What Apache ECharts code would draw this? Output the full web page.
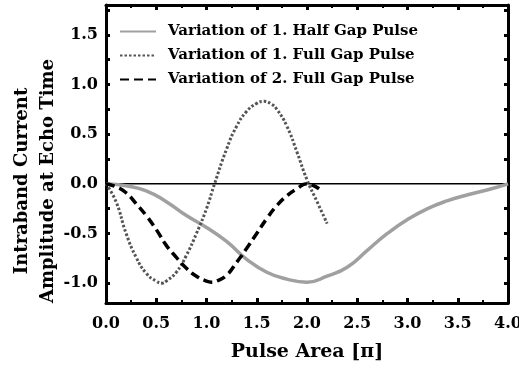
<!DOCTYPE html>
<html>
<head>
<meta charset="utf-8">
<script src="https://cdn.jsdelivr.net/npm/echarts@6/dist/echarts.min.js"></script>
<style>
  html, body { margin: 0; padding: 0; background: #fff; }
  #chart { width: 519px; height: 373px; }
</style>
</head>
<body>
<div id="chart"></div>
<script>
// Pulse area in units of pi
var halfGapX = [0, 0.2, 0.4, 0.6, 0.8, 1.0, 1.2, 1.4, 1.6, 1.8, 2.0, 2.2, 2.4, 2.6, 2.8, 3.0, 3.2, 3.4, 3.6, 3.8, 4.0];
var halfGapY = [0, -0.02, -0.07, -0.18, -0.32, -0.44, -0.58, -0.76, -0.89, -0.96, -0.99, -0.93, -0.84, -0.67, -0.5, -0.36, -0.25, -0.17, -0.11, -0.06, 0];

var full1X = [0, 0.1, 0.2, 0.3, 0.4, 0.5, 0.56, 0.6, 0.7, 0.8, 0.9, 1.0, 1.08, 1.2, 1.3, 1.4, 1.5, 1.57, 1.65, 1.7, 1.8, 1.9, 2.0, 2.1, 2.2];
var full1Y = [0, -0.18, -0.5, -0.74, -0.9, -0.98, -1.0, -0.98, -0.89, -0.72, -0.5, -0.25, 0, 0.35, 0.58, 0.73, 0.81, 0.83, 0.8, 0.75, 0.58, 0.32, 0.04, -0.18, -0.4];

var full2X = [0, 0.1, 0.2, 0.3, 0.4, 0.5, 0.6, 0.7, 0.8, 0.9, 1.0, 1.05, 1.1, 1.2, 1.3, 1.4, 1.5, 1.6, 1.7, 1.8, 1.9, 2.0, 2.05, 2.12];
var full2Y = [0, -0.03, -0.09, -0.2, -0.32, -0.46, -0.62, -0.74, -0.85, -0.93, -0.98, -0.99, -0.98, -0.92, -0.79, -0.65, -0.5, -0.35, -0.22, -0.12, -0.05, 0, -0.01, -0.05];

var seriesNames = ['Variation of 1. Half Gap Pulse', 'Variation of 1. Full Gap Pulse', 'Variation of 2. Full Gap Pulse'];
var yLabelValues = [-1.0, -0.5, 0.0, 0.5, 1.0, 1.5];
var yTickValues = [-1.0, -0.75, -0.5, -0.25, 0, 0.25, 0.5, 0.75, 1.0, 1.25, 1.5, 1.75];

function pairs(xs, ys) {
  return xs.map(function(x, i) { return [x, ys[i]]; });
}

var font = 'DejaVu Serif';

var chart = echarts.init(document.getElementById('chart'), null, { renderer: 'canvas' });

var frameLine = { show: true, onZero: false, lineStyle: { color: '#000', width: 3 } };

chart.setOption({
  animation: false,
  grid: { left: 106, right: 11, top: 5, bottom: 70, containLabel: false, outerBoundsMode: 'none' },
  legend: {
    data: seriesNames,
    orient: 'vertical',
    left: 114,
    top: 19,
    itemWidth: 36,
    itemHeight: 12,
    itemGap: 9,
    itemStyle: { opacity: 0 },
    textStyle: { fontFamily: font, fontWeight: 'bold', fontSize: 15, color: '#000', padding: [0, 0, 0, 7] }
  },
  xAxis: [
    {
      type: 'value',
      min: 0,
      max: 4,
      interval: 0.5,
      position: 'bottom',
      axisLine: frameLine,
      axisTick: { inside: true, length: 5, lineStyle: { width: 3, color: '#000' } },
      minorTick: { show: true, splitNumber: 2, length: 3, lineStyle: { width: 2, color: '#000' } },
      splitLine: { show: false },
      axisLabel: {
        margin: 13,
        fontFamily: font, fontWeight: 'bold', fontSize: 16, color: '#000',
        formatter: function(v) { return v.toFixed(1); }
      },
      name: 'Pulse Area [π]',
      nameLocation: 'middle',
      nameGap: 40,
      nameMoveOverlap: false,
      nameTextStyle: { fontFamily: font, fontWeight: 'bold', fontSize: 19, color: '#000' }
    },
    {
      type: 'value',
      min: 0,
      max: 4,
      interval: 0.5,
      position: 'top',
      axisLine: frameLine,
      axisTick: { inside: true, length: 5, lineStyle: { width: 3, color: '#000' } },
      minorTick: { show: true, splitNumber: 2, length: 3, lineStyle: { width: 2, color: '#000' } },
      splitLine: { show: false },
      axisLabel: { show: false }
    }
  ],
  yAxis: [
    {
      type: 'value',
      min: -1.2,
      max: 1.8,
      position: 'left',
      axisLine: frameLine,
      axisTick: { inside: true, length: 4, customValues: yTickValues, lineStyle: { width: 3, color: '#000' } },
      splitLine: { show: false },
      axisLabel: {
        customValues: yLabelValues,
        margin: 8,
        fontFamily: font, fontWeight: 'bold', fontSize: 16, color: '#000',
        formatter: function(v) { return v.toFixed(1); }
      },
      name: 'Intraband Current\nAmplitude at Echo Time',
      nameLocation: 'middle',
      nameGap: 45,
      nameRotate: 90,
      nameMoveOverlap: false,
      nameTextStyle: { fontFamily: font, fontWeight: 'bold', fontSize: 18, lineHeight: 26, color: '#000', padding: [0, 54, 0, 0] }
    },
    {
      type: 'value',
      min: -1.2,
      max: 1.8,
      position: 'right',
      axisLine: frameLine,
      axisTick: { inside: true, length: 4, customValues: yTickValues, lineStyle: { width: 3, color: '#000' } },
      splitLine: { show: false },
      axisLabel: { show: false }
    }
  ],
  series: [
    {
      name: 'zero',
      type: 'line',
      data: [[0, 0], [4, 0]],
      symbol: 'none',
      silent: true,
      z: 1,
      lineStyle: { color: '#000', width: 1.5 }
    },
    {
      name: seriesNames[0],
      type: 'line',
      data: pairs(halfGapX, halfGapY),
      smooth: true,
      symbol: 'none',
      z: 2,
      lineStyle: { color: '#a0a0a0', width: 3.5 },
      itemStyle: { color: '#a0a0a0' }
    },
    {
      name: seriesNames[1],
      type: 'line',
      data: pairs(full1X, full1Y),
      smooth: true,
      symbol: 'none',
      z: 3,
      lineStyle: { color: '#555', width: 3, type: [2.5, 2] },
      itemStyle: { color: '#555' }
    },
    {
      name: seriesNames[2],
      type: 'line',
      data: pairs(full2X, full2Y),
      smooth: true,
      symbol: 'none',
      z: 4,
      lineStyle: { color: '#000', width: 3.5, type: [9, 5] },
      itemStyle: { color: '#000' }
    }
  ]
});
</script>
</body>
</html>
